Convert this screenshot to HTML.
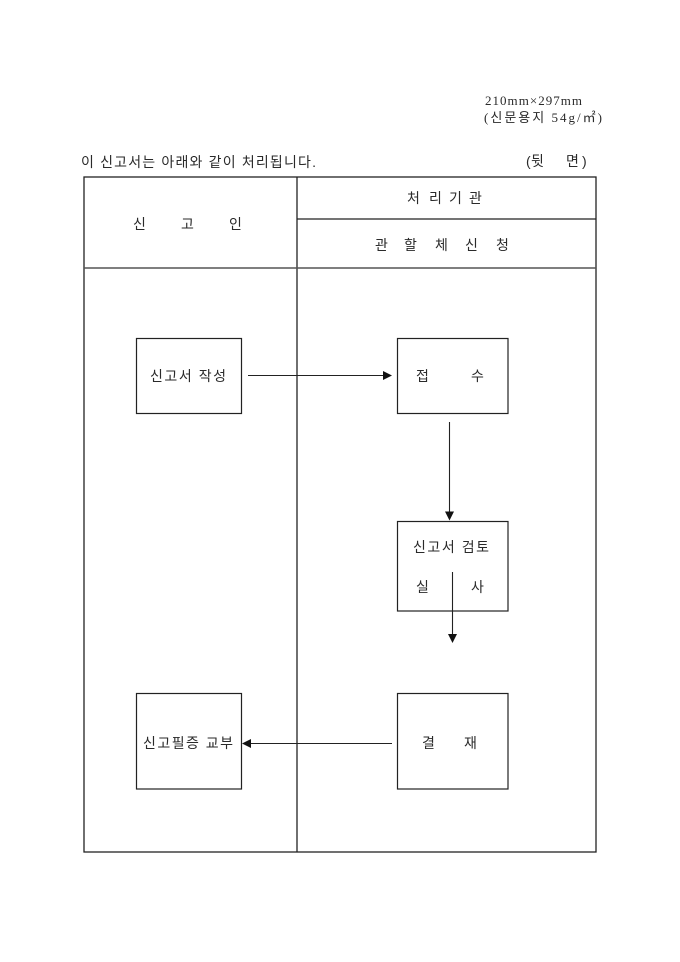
<!DOCTYPE html>
<html>
<head>
<meta charset="utf-8">
<style>
  html, body { margin: 0; padding: 0; background: #fff; }
  body { width: 680px; height: 962px; overflow: hidden; }
  svg { display: block; }
  .k { font-family: "Liberation Sans", "Noto Sans CJK KR", sans-serif; font-size: 14px; fill: #2a2a2a; }
  .s { font-family: "Liberation Serif", "Noto Sans CJK KR", serif; font-size: 13px; fill: #2a2a2a; }
</style>
</head>
<body>
<svg width="680" height="962" viewBox="0 0 680 962" xmlns="http://www.w3.org/2000/svg">
  <!-- top-right notes -->
  <text class="s" x="485" y="105" textLength="97" lengthAdjust="spacing">210mm×297mm</text>
  <text class="s" x="484" y="122" textLength="118" lengthAdjust="spacing">(신문용지 54g/㎡)</text>

  <!-- caption line -->
  <text class="k" x="81" y="167" textLength="235" lengthAdjust="spacing">이 신고서는 아래와 같이 처리됩니다.</text>
  <text class="k" x="526" y="166">(</text>
  <text class="k" x="531" y="166">뒷</text>
  <text class="k" x="566" y="166">면</text>
  <text class="k" x="582" y="166">)</text>

  <!-- table -->
  <g stroke="#222" stroke-width="1.3" fill="none">
    <rect x="84" y="177" width="512" height="675"/>
    <line x1="297" y1="177" x2="297" y2="852"/>
    <line x1="297" y1="219" x2="596" y2="219"/>
  </g>
  <line x1="84" y1="268" x2="596" y2="268" stroke="#555" stroke-width="1.5"/>

  <!-- header texts -->
  <text class="k" x="133" y="229">신</text>
  <text class="k" x="181" y="229">고</text>
  <text class="k" x="229" y="229">인</text>

  <text class="k" x="407" y="203">처</text>
  <text class="k" x="429" y="203">리</text>
  <text class="k" x="449" y="203">기</text>
  <text class="k" x="469" y="203">관</text>

  <text class="k" x="375" y="250">관</text>
  <text class="k" x="404" y="250">할</text>
  <text class="k" x="435" y="250">체</text>
  <text class="k" x="465" y="250">신</text>
  <text class="k" x="496" y="250">청</text>

  <!-- boxes -->
  <g stroke="#222" stroke-width="1.2" fill="none">
    <rect x="136.5" y="338.5" width="105" height="75"/>
    <rect x="397.5" y="338.5" width="110.5" height="75"/>
    <rect x="397.5" y="521.5" width="110.5" height="89.5"/>
    <rect x="136.5" y="693.5" width="105" height="95.5"/>
    <rect x="397.5" y="693.5" width="110.5" height="95.5"/>
  </g>

  <!-- box texts -->
  <text class="k" x="150" y="381" textLength="76" lengthAdjust="spacing">신고서 작성</text>
  <text class="k" x="416" y="381">접</text>
  <text class="k" x="471" y="381">수</text>

  <text class="k" x="413" y="552" textLength="76" lengthAdjust="spacing">신고서 검토</text>
  <text class="k" x="416" y="592">실</text>
  <text class="k" x="471" y="592">사</text>

  <text class="k" x="143" y="748" textLength="90" lengthAdjust="spacing">신고필증 교부</text>
  <text class="k" x="422" y="748">결</text>
  <text class="k" x="464" y="748">재</text>

  <!-- arrows -->
  <g stroke="#222" stroke-width="1.1" fill="none">
    <line x1="248" y1="375.5" x2="385" y2="375.5"/>
    <line x1="449.5" y1="422" x2="449.5" y2="513"/>
    <line x1="452.5" y1="572" x2="452.5" y2="636"/>
    <line x1="392" y1="743.5" x2="249" y2="743.5"/>
  </g>
  <g fill="#111">
    <polygon points="392,375.5 383,371 383,380"/>
    <polygon points="449.5,520.5 445,511.5 454,511.5"/>
    <polygon points="452.5,643 448,634 457,634"/>
    <polygon points="242,743.5 251,739 251,748"/>
  </g>
</svg>
</body>
</html>
